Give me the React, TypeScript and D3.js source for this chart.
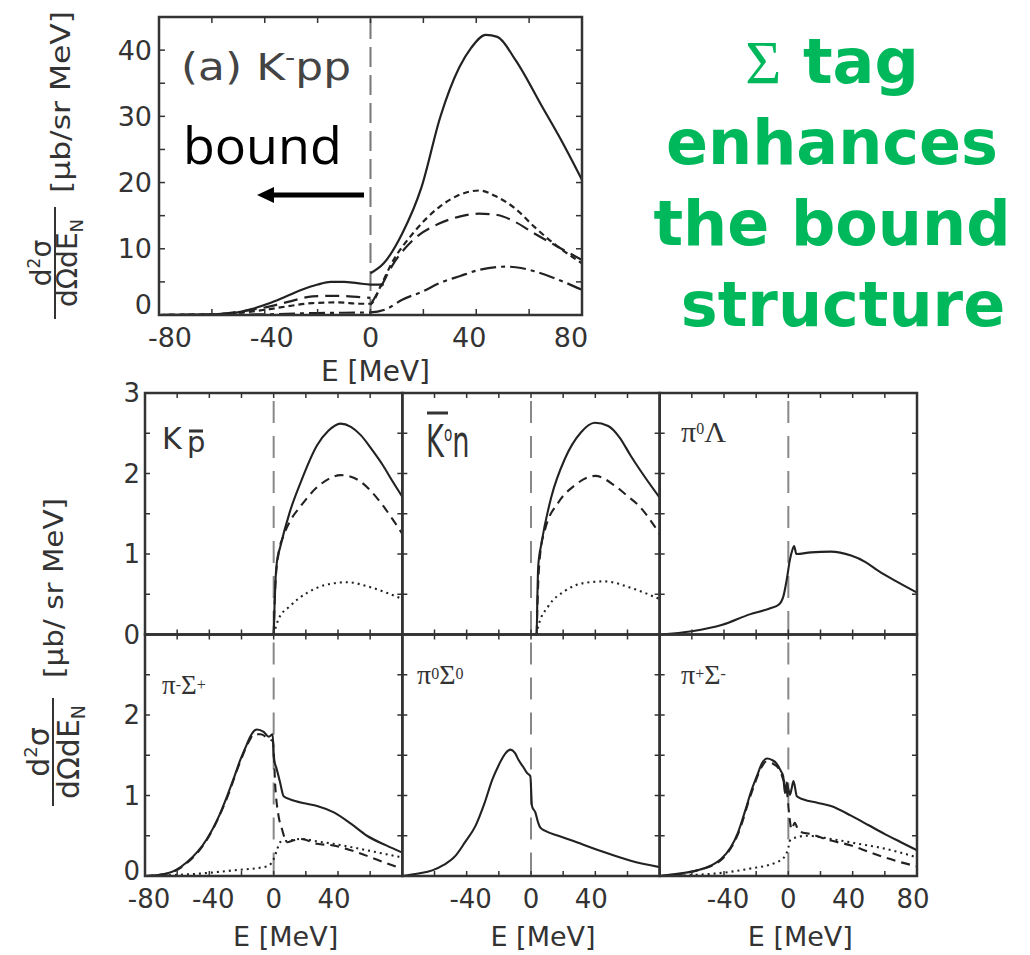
import React from 'react';
import * as d3 from 'd3';

type P = [number, number];

// ---------- (a) K-pp panel ----------
const aSolidBound: P[] = [[-80,0],[-65,0.05],[-52,0.3],[-45,0.9],[-38,1.8],[-32,2.8],[-26,3.8],[-20,4.6],[-15,5.0],[-10,5.0],[-5,4.8],[0,4.6],[5,4.6]];
const aSolidCont: P[] = [[0,6.3],[5,7.8],[12,12.3],[19.3,19.3],[26.4,29.9],[33.6,37.4],[38,40.3],[43.6,42.3],[48,42],[55,38.4],[65,31.4],[72,26.5],[80,20.4]];
const aShortDash: P[] = [[-80,0],[-60,0.1],[-48,0.4],[-38,0.9],[-30,1.4],[-22,1.8],[-12,1.9],[-4,1.7],[0,1.7],[4,4.5],[8,7.8],[16,12.3],[26,16.3],[34,18.2],[41,18.8],[48,17.8],[55,16],[62,13.3],[70,10.6],[80,7.8]];
const aLongDashBound: P[] = [[-80,0],[-60,0.1],[-48,0.6],[-38,1.3],[-30,2.1],[-22,2.8],[-12,2.9],[-4,2.7],[0,2.6]];
const aLongDashCont: P[] = [[0,1.5],[4,4.3],[8,7.3],[16,11.3],[26,13.8],[34,14.9],[41,15.3],[48,15.1],[55,14],[62,12.3],[70,10.5],[80,8.3]];
const aDashDot: P[] = [[-80,0],[-40,0.1],[-20,0.3],[0,0.4],[6,0.9],[12,2.3],[20,3.6],[26,4.8],[34,5.9],[41,6.8],[51,7.3],[57,7.1],[62,6.6],[70,5.5],[80,3.8]];

const topXTicks = [-80, -40, 0, 40, 80];
const topYTicks = [0, 10, 20, 30, 40];

// ---------- bottom panels ----------
const kpSolid: P[] = [[-80,0],[0,0],[0.6,0.4],[1.2,0.7],[2,0.9],[4,1.08],[10,1.52],[17,1.9],[27,2.35],[34,2.53],[41.5,2.62],[48,2.58],[54,2.48],[61,2.3],[68,2.1],[74,1.9],[80,1.71]];
const kpDashed: P[] = [[0,0],[1,0.6],[3,1.0],[6,1.22],[10,1.4],[17,1.6],[27,1.83],[34,1.93],[41.5,1.98],[48,1.96],[54,1.9],[61,1.77],[68,1.6],[74,1.43],[80,1.25]];
const kpDotted: P[] = [[0,0],[3,0.19],[10,0.35],[21,0.52],[33,0.62],[46,0.65],[58,0.6],[70,0.52],[80,0.44]];

const knSolid: P[] = [[-80,0],[3.5,0],[4,0.5],[4.5,0.85],[6.6,1.14],[12.8,1.72],[21,2.18],[31,2.51],[39.7,2.63],[48,2.59],[55,2.45],[62,2.22],[71,1.95],[80,1.7]];
const knDashed: P[] = [[3.5,0],[4.5,0.64],[6,1.05],[8.7,1.3],[17,1.64],[27,1.85],[40,1.97],[52,1.85],[60,1.72],[67,1.6],[80,1.25]];
const knDotted: P[] = [[3.5,0],[4.5,0.1],[10.7,0.35],[21,0.54],[33,0.64],[46,0.66],[62,0.58],[80,0.44]];

const plSolid: P[] = [[-80,0],[-60,0.04],[-41,0.12],[-24,0.25],[-12,0.32],[-6,0.37],[-3,0.48],[-1,0.68],[1,0.93],[2.5,1.05],[3.6,1.1],[5,1.0],[14,1.02],[26.5,1.03],[39,0.98],[48,0.9],[56,0.79],[68,0.65],[80,0.52]];

const pmSolid: P[] = [[-80,0],[-66.5,0.03],[-54,0.17],[-41.5,0.46],[-35,0.7],[-29,0.99],[-24,1.26],[-20.8,1.44],[-17,1.62],[-14.6,1.73],[-10.4,1.82],[-6.2,1.79],[-3,1.73],[-0.6,1.76],[0,1.48],[2,1.32],[4,1.16],[6.2,0.99],[10.4,0.95],[20,0.9],[27,0.87],[37.4,0.79],[48,0.65],[58,0.5],[70,0.38],[80,0.29]];
const pmDashed: P[] = [[-80,0],[-66,0.03],[-54,0.16],[-41.5,0.45],[-29,0.97],[-20.8,1.42],[-14.6,1.7],[-12.5,1.76],[-8,1.76],[-3,1.7],[-0.4,1.67],[1,1.11],[3,0.75],[5.2,0.58],[8.3,0.42],[12,0.44],[17,0.46],[27,0.4],[37,0.38],[48,0.32],[58,0.25],[70,0.16],[80,0.09]];
const pmDotted: P[] = [[-80,0],[-46,0.03],[-25,0.07],[-4,0.12],[0,0.21],[2,0.32],[4,0.42],[10,0.44],[17,0.46],[27,0.43],[37,0.4],[48,0.36],[58,0.32],[70,0.27],[80,0.23]];

const p0Solid: P[] = [[-80,0],[-70,0.03],[-61.4,0.07],[-54,0.14],[-47,0.25],[-41,0.42],[-34.6,0.62],[-29,0.9],[-24,1.2],[-20,1.38],[-16,1.52],[-12.8,1.57],[-10,1.53],[-7.7,1.44],[-5,1.36],[-2.5,1.28],[-0.4,1.24],[0.6,0.87],[2.7,0.79],[4.5,0.66],[5.8,0.6],[8.9,0.56],[17,0.5],[25.5,0.44],[42,0.32],[62,0.19],[80,0.11]];

const ppSolid: P[] = [[-80,0],[-68,0.03],[-56.6,0.07],[-48,0.13],[-41.8,0.21],[-36,0.35],[-31.3,0.54],[-27,0.8],[-22.8,1.07],[-19,1.27],[-16.4,1.4],[-13.2,1.46],[-10,1.44],[-7.4,1.4],[-4.5,1.3],[-3.2,1.24],[-2.1,1.03],[-1,1.16],[0,1.08],[1,1.01],[2.2,1.1],[3.2,1.18],[5.3,0.99],[9.5,0.95],[18,0.91],[26.5,0.87],[39,0.75],[50,0.63],[60,0.52],[70,0.42],[80,0.32]];
const ppDashed: P[] = [[-80,0],[-56.6,0.07],[-41.8,0.2],[-31.3,0.52],[-22.8,1.04],[-16.4,1.36],[-14,1.42],[-10,1.4],[-5,1.3],[-3.2,1.2],[-1,1.07],[0.6,0.75],[2,0.58],[4,0.66],[6.4,0.56],[13.8,0.52],[26.5,0.44],[39,0.38],[50,0.3],[60,0.23],[70,0.17],[80,0.12]];
const ppDotted: P[] = [[-80,0],[-46,0.03],[-24.4,0.09],[-7.4,0.17],[-2,0.25],[0,0.35],[1,0.44],[5,0.48],[11.6,0.5],[26.5,0.46],[43.5,0.4],[60,0.34],[70,0.29],[80,0.23]];

const colXTickLabels = [[-80, -40, 0, 40], [-40, 0, 40], [-40, 0, 40, 80]];
const rowYTickLabels = [[0, 1, 2, 3], [0, 1, 2]];

const greenLines = ['tag', 'enhances', 'the bound', 'structure'];

const INK = '#222';
const AX = '#333';
const SANS = "'DejaVu Sans', Verdana, sans-serif";
const SERIF = "'Liberation Serif', 'DejaVu Serif', serif";

type Series = { pts: P[]; dash?: string };

export default function App() {
  // top panel geometry
  const tL = 159, tR = 582, tT = 17, tB = 315;
  const tx = d3.scaleLinear().domain([-80, 80]).range([tL, tR]);
  const ty = d3.scaleLinear().domain([0, 45]).range([tB, tT]);
  const tLine = d3.line<P>().x(d => tx(d[0])).y(d => ty(d[1])).curve(d3.curveMonotoneX);

  const topSeries: Series[] = [
    { pts: aSolidBound },
    { pts: aSolidCont },
    { pts: aShortDash, dash: '6,4' },
    { pts: aLongDashBound, dash: '14,7' },
    { pts: aLongDashCont, dash: '14,7' },
    { pts: aDashDot, dash: '16,5,4,5' },
  ];

  // bottom grid geometry
  const gL = 145, gR = 917, gT = 393, gB = 876;
  const pw = (gR - gL) / 3, ph = (gB - gT) / 2;

  const panels: { col: number; row: number; series: Series[] }[] = [
    { col: 0, row: 0, series: [{ pts: kpSolid }, { pts: kpDashed, dash: '9,6' }, { pts: kpDotted, dash: '2,4' }] },
    { col: 1, row: 0, series: [{ pts: knSolid }, { pts: knDashed, dash: '9,6' }, { pts: knDotted, dash: '2,4' }] },
    { col: 2, row: 0, series: [{ pts: plSolid }] },
    { col: 0, row: 1, series: [{ pts: pmSolid }, { pts: pmDashed, dash: '9,6' }, { pts: pmDotted, dash: '2,4' }] },
    { col: 1, row: 1, series: [{ pts: p0Solid }] },
    { col: 2, row: 1, series: [{ pts: ppSolid }, { pts: ppDashed, dash: '9,6' }, { pts: ppDotted, dash: '2,4' }] },
  ];

  const topMinorX = d3.range(-80, 81, 20);
  const topMinorY = d3.range(0, 45, 5);
  const botMinorX = d3.range(-60, 61, 20);
  const botMinorY = d3.range(0.5, 3, 0.5);

  return (
    <svg width={1030} height={955} style={{ position: 'absolute', left: 0, top: 0, background: '#fff' }}>
      {/* ===== top panel ===== */}
      <g>
        <line x1={tx(0)} x2={tx(0)} y1={tT + 2} y2={tB} stroke="#777" strokeWidth={2} strokeDasharray="20,8" />
        {topSeries.map((s, i) => (
          <path key={i} d={tLine(s.pts) || ''} fill="none" stroke={INK} strokeWidth={2.2} strokeDasharray={s.dash} />
        ))}
        {topMinorX.map(v => (
          <g key={'tx' + v}>
            <line x1={tx(v)} x2={tx(v)} y1={tB} y2={tB - 6} stroke={AX} strokeWidth={1.5} />
            <line x1={tx(v)} x2={tx(v)} y1={tT} y2={tT + 6} stroke={AX} strokeWidth={1.5} />
          </g>
        ))}
        {topMinorY.map(v => (
          <g key={'ty' + v}>
            <line x1={tL} x2={tL + 6} y1={ty(v)} y2={ty(v)} stroke={AX} strokeWidth={1.5} />
            <line x1={tR} x2={tR - 6} y1={ty(v)} y2={ty(v)} stroke={AX} strokeWidth={1.5} />
          </g>
        ))}
        <rect x={tL} y={tT} width={tR - tL} height={tB - tT} fill="none" stroke={AX} strokeWidth={2.5} />
        {topXTicks.map(v => (
          <text key={'txl' + v} x={tx(v) - Math.sign(v) * (Math.abs(v) === 80 ? 11 : 7)} y={347} textAnchor="middle"
            fontFamily={SANS} fontSize={27} fill={AX}>{v}</text>
        ))}
        {topYTicks.map(v => (
          <text key={'tyl' + v} x={152} y={ty(v) - (v === 0 ? 11 : 0)} textAnchor="end" dominantBaseline="central"
            fontFamily={SANS} fontSize={27} fill={AX}>{v}</text>
        ))}
        <text x={tx(0) + 5} y={381} textAnchor="middle" fontFamily={SANS} fontSize={28} fill={AX}>E [MeV]</text>
        <text x={181} y={80} fontFamily={SANS} fontSize={37} fill="#444" textLength={170} lengthAdjust="spacingAndGlyphs">
          (a)<tspan dx={12}>K</tspan><tspan dy={-14} fontSize={24}>-</tspan><tspan dy={14}>pp</tspan>
        </text>
        {/* bound arrow */}
        <text x={183} y={164} fontFamily="'Open Sans', 'DejaVu Sans', sans-serif" fontSize={52} fill="#000">bound</text>
        <line x1={364} x2={270} y1={195} y2={195} stroke="#000" strokeWidth={5} />
        <path d="M257,195 L274,187 L274,203 Z" fill="#000" />
        {/* y label */}
        <g transform="translate(55,263) rotate(-90)">
          <text x={0} y={-4} textAnchor="middle" fontFamily={SANS} fontSize={28} fill={AX}>
            d<tspan dy={-11} fontSize={17}>2</tspan><tspan dy={11}>σ</tspan>
          </text>
          <line x1={-56} x2={56} y1={0} y2={0} stroke={AX} strokeWidth={2} />
          <text x={0} y={22} textAnchor="middle" fontFamily={SANS} fontSize={28} fill={AX}>
            dΩdE<tspan dy={6} fontSize={18}>N</tspan>
          </text>
        </g>
        <g transform="translate(70,102) rotate(-90)">
          <text x={0} y={0} textAnchor="middle" fontFamily={SANS} fontSize={27} fill={AX}
            textLength={182} lengthAdjust="spacingAndGlyphs">[μb/sr MeV]</text>
        </g>
      </g>

      {/* ===== green annotation ===== */}
      <text x={832} y={83} textAnchor="middle" fontFamily={SANS} fontWeight="bold" fontSize={62} fill="#00b85c">
        <tspan fontFamily={SERIF} fontWeight="normal">Σ</tspan> {greenLines[0]}
      </text>
      {greenLines.slice(1).map((t, i) => (
        <text key={t} x={i === 2 ? 843 : 832} y={83 + (i + 1) * 81} textAnchor="middle"
          fontFamily={SANS} fontWeight="bold" fontSize={62} fill="#00b85c">{t}</text>
      ))}

      {/* ===== bottom grid ===== */}
      {panels.map((p, idx) => {
        const x0 = gL + p.col * pw, y0 = gT + p.row * ph;
        const x = d3.scaleLinear().domain([-80, 80]).range([x0, x0 + pw]);
        const y = d3.scaleLinear().domain([0, 3]).range([y0 + ph, y0]);
        const line = d3.line<P>().x(d => x(d[0])).y(d => y(d[1])).curve(d3.curveMonotoneX);
        return (
          <g key={idx}>
            <line x1={x(0)} x2={x(0)} y1={y0 + 8} y2={y0 + ph} stroke="#888" strokeWidth={2} strokeDasharray="22,13" />
            {p.series.map((s, i) => (
              <path key={i} d={line(s.pts) || ''} fill="none" stroke={INK} strokeWidth={2.1} strokeDasharray={s.dash} />
            ))}
            {botMinorX.map(v => (
              <g key={'bx' + v}>
                <line x1={x(v)} x2={x(v)} y1={y0 + ph} y2={y0 + ph - 5} stroke={AX} strokeWidth={1.5} />
                <line x1={x(v)} x2={x(v)} y1={y0} y2={y0 + 5} stroke={AX} strokeWidth={1.5} />
              </g>
            ))}
            {botMinorY.map(v => (
              <g key={'by' + v}>
                <line x1={x0} x2={x0 + 5} y1={y(v)} y2={y(v)} stroke={AX} strokeWidth={1.5} />
                <line x1={x0 + pw} x2={x0 + pw - 5} y1={y(v)} y2={y(v)} stroke={AX} strokeWidth={1.5} />
              </g>
            ))}
            <rect x={x0} y={y0} width={pw} height={ph} fill="none" stroke={AX} strokeWidth={2.5} />
            {p.row === 1 && colXTickLabels[p.col].map(v => (
              <text key={'bxl' + v} x={x(v) - Math.sign(v) * 4} y={908} textAnchor="middle"
                fontFamily={SANS} fontSize={26} fill={AX}>{v}</text>
            ))}
            {p.row === 1 && (
              <text x={x(0) + 12} y={946} textAnchor="middle" fontFamily={SANS} fontSize={27} fill={AX}>E [MeV]</text>
            )}
            {p.col === 0 && rowYTickLabels[p.row].map(v => (
              <text key={'byl' + v} x={140} y={y(v) - (p.row === 1 && v === 0 ? 5 : 0)} textAnchor="end" dominantBaseline="central"
                fontFamily={SANS} fontSize={26} fill={AX}>{v}</text>
            ))}
          </g>
        );
      })}

      {/* panel labels */}
      <text x={162} y={449} fontFamily={SANS} fontSize={30} fill={AX}>K</text>
      <line x1={189} x2={203} y1={431} y2={431} stroke={AX} strokeWidth={3} />
      <text x={187} y={452} fontFamily={SANS} fontSize={29} fill={AX}>p</text>

      <line x1={427} x2={448} y1={413} y2={413} stroke={AX} strokeWidth={3} />
      <g transform="translate(426,457) scale(0.62,1)">
        <text x={0} y={0} fontFamily={SANS} fontSize={44} fill={AX}>K<tspan dy={-16} fontSize={22}>o</tspan><tspan dy={16}>n</tspan></text>
      </g>

      <text x={681} y={442} fontFamily={SERIF} fontSize={30} fill={AX}>π<tspan dy={-8} fontSize={16}>0</tspan><tspan dy={8}>Λ</tspan></text>
      <text x={162} y={694} fontFamily={SERIF} fontSize={27} fill={AX}>π<tspan dy={-4} fontSize={16}>-</tspan><tspan dy={4}>Σ</tspan><tspan dy={-4} fontSize={16}>+</tspan></text>
      <text x={417} y={684} fontFamily={SERIF} fontSize={28} fill={AX}>π<tspan dy={-5} fontSize={16}>0</tspan><tspan dy={5}>Σ</tspan><tspan dy={-5} fontSize={16}>0</tspan></text>
      <text x={681} y={684} fontFamily={SERIF} fontSize={28} fill={AX}>π<tspan dy={-5} fontSize={16}>+</tspan><tspan dy={5}>Σ</tspan><tspan dy={-5} fontSize={16}>-</tspan></text>

      {/* bottom y label */}
      <g transform="translate(53,752) rotate(-90)">
        <text x={0} y={-4} textAnchor="middle" fontFamily={SANS} fontSize={30} fill={AX}>
          d<tspan dy={-12} fontSize={18}>2</tspan><tspan dy={12}>σ</tspan>
        </text>
        <line x1={-54} x2={54} y1={0} y2={0} stroke={AX} strokeWidth={2} />
        <text x={0} y={26} textAnchor="middle" fontFamily={SANS} fontSize={30} fill={AX}>
          dΩdE<tspan dy={6} fontSize={19}>N</tspan>
        </text>
      </g>
      <g transform="translate(63,588) rotate(-90)">
        <text x={0} y={0} textAnchor="middle" fontFamily={SANS} fontSize={26} fill={AX}
          textLength={180} lengthAdjust="spacingAndGlyphs">[μb/ sr MeV]</text>
      </g>
    </svg>
  );
}
